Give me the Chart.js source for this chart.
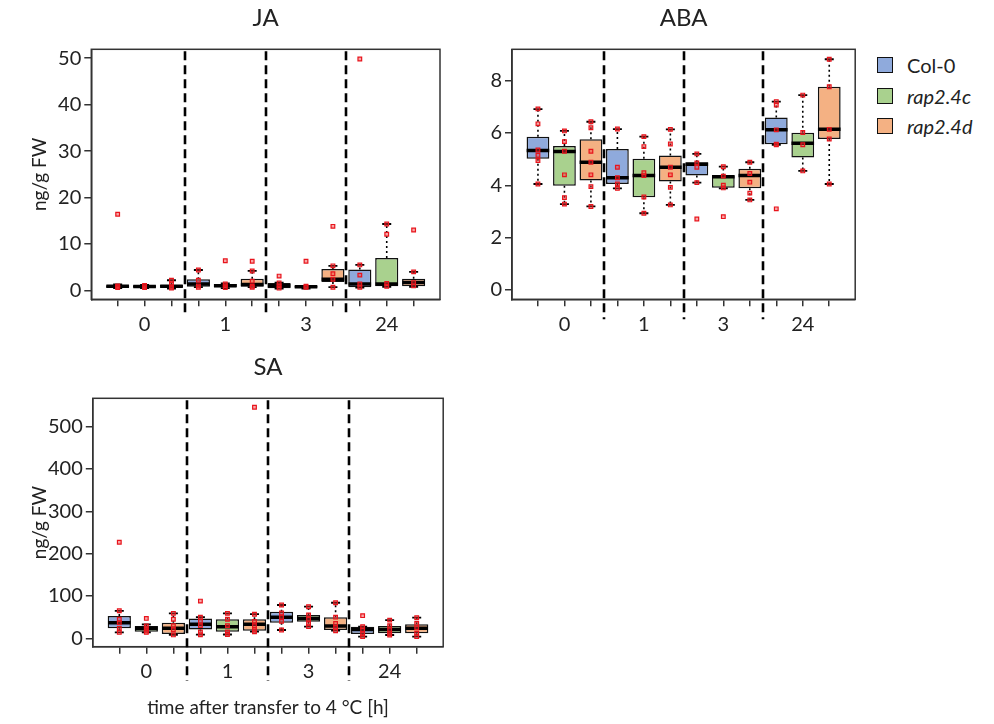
<!DOCTYPE html>
<html>
<head>
<meta charset="utf-8">
<script src="https://cdn.jsdelivr.net/npm/chart.js@4.4.1/dist/chart.umd.min.js"></script>
<style>
  body { margin: 0; background: #fff; width: 994px; height: 724px; position: relative; overflow: hidden; font-family: Lato, sans-serif; }
  .panel { position: absolute; }
  #legend { position: absolute; left: 877px; top: 50px; color: #222; font-size: 20px; }
  .item { display: flex; align-items: center; height: 30.5px; }
  .swatch { width: 14px; height: 14px; border: 1.5px solid #111; margin-right: 14px; }
</style>
</head>
<body>
<div class="panel" style="left:0;top:0;width:470px;height:340px"><canvas id="ja"></canvas></div>
<div class="panel" style="left:470px;top:0;width:400px;height:340px"><canvas id="aba"></canvas></div>
<div class="panel" style="left:0;top:349px;width:470px;height:375px"><canvas id="sa"></canvas></div>
<div id="legend"></div>
<script>
// box slots 1..12: Col-0, rap2.4c, rap2.4d at each time point
const timeLabels = ['0', '1', '3', '24'];
const genotypes = ['Col-0', 'rap2.4c', 'rap2.4d'];
const genotypeColors = ['#8faadc', '#a9d18e', '#f4b183'];
const slots = [1, 2, 3, 4, 5, 6, 7, 8, 9, 10, 11, 12];
const separators = [3.5, 6.5, 9.5];

// JA (ng/g FW)
const jaLow  = [0.5, 0.5, 0.4, 0.7, 0.5, 0.7, 0.4, 0.4, 0.7, 0.6, 0.8, 0.8];
const jaQ1   = [0.6, 0.6, 0.6, 0.8, 0.7, 0.8, 0.5, 0.6, 1.8, 0.7, 0.9, 0.9];
const jaMed  = [0.9, 0.85, 0.9, 1.4, 1.0, 1.3, 1.0, 0.8, 2.4, 1.4, 1.4, 1.7];
const jaQ3   = [1.1, 1.1, 1.2, 2.4, 1.4, 2.5, 1.6, 1.0, 4.6, 4.5, 7.0, 2.5];
const jaHigh = [1.3, 1.2, 2.2, 4.4, 1.5, 4.2, 1.7, 1.0, 5.3, 5.5, 14.3, 4.0];
const jaPoints = [
  [1.0, 0.8, 0.6, 16.4], [1.1, 0.8, 0.6], [2.2, 1.4, 0.8, 0.5],
  [4.4, 2.2, 1.0, 0.7], [1.4, 1.0, 0.6, 6.4], [4.2, 2.0, 0.9, 0.7, 6.3],
  [1.6, 1.0, 0.5, 3.1], [0.9, 0.7, 6.3], [5.3, 3.6, 2.4, 0.7, 13.8],
  [5.5, 3.3, 1.4, 0.7, 49.8], [14.3, 12.1, 1.5, 0.9], [4.0, 1.7, 1.0, 13.0]
];
const jaTicks = [0, 10, 20, 30, 40, 50];

// ABA (ng/g FW)
const abaLow  = [4.05, 3.28, 3.19, 3.88, 2.93, 3.25, 4.10, 3.88, 3.44, 5.55, 4.55, 4.05];
const abaQ1   = [5.01, 3.98, 4.18, 4.05, 3.54, 4.14, 4.37, 3.91, 3.89, 5.57, 5.06, 5.77];
const abaMed  = [5.33, 5.29, 4.88, 4.29, 4.37, 4.69, 4.80, 4.33, 4.37, 6.12, 5.61, 6.14];
const abaQ3   = [5.86, 5.50, 5.76, 5.39, 5.01, 5.14, 4.88, 4.37, 4.63, 6.59, 6.01, 7.77];
const abaHigh = [6.91, 6.08, 6.43, 6.15, 5.86, 6.14, 5.20, 4.71, 4.88, 7.20, 7.45, 8.82];
const abaPoints = [
  [6.92, 6.35, 5.35, 5.15, 4.95, 4.05], [6.08, 5.67, 5.30, 4.40, 3.53, 3.28], [6.43, 6.20, 5.30, 4.88, 4.40, 3.95, 3.19],
  [6.15, 4.69, 4.29, 4.05, 3.88], [5.86, 5.48, 4.48, 4.37, 3.55, 2.93], [6.14, 5.58, 4.69, 4.40, 3.92, 3.25],
  [5.20, 4.85, 4.69, 4.10, 2.71], [4.71, 4.35, 4.00, 3.90, 2.80], [4.88, 4.45, 4.12, 3.70, 3.44],
  [7.20, 7.07, 6.12, 5.57, 5.55, 3.10], [7.45, 6.02, 5.55, 4.55], [8.82, 7.77, 6.14, 5.77, 4.05]
];
const abaTicks = [0, 2, 4, 6, 8];

// SA (ng/g FW)
const saLow  = [14, 14, 8, 8.5, 9, 15.6, 19.6, 27.5, 18, 3.9, 7.8, 3.9];
const saQ1   = [23.6, 15.6, 10, 21, 15.6, 18, 37, 39, 19.6, 10, 11.8, 11.8];
const saMed  = [36.9, 23.6, 23.6, 33, 27.5, 33, 49.6, 47, 29, 21, 21, 23.6];
const saQ3   = [52.7, 29, 36.9, 47, 45, 45, 63, 55, 49.6, 27.5, 29, 33];
const saHigh = [65, 33, 59, 50, 59, 57, 78.7, 74.7, 84, 27.5, 43, 48.7];
const saPoints = [
  [65, 45, 36.9, 23.6, 14, 227], [29, 23.6, 18, 14, 47], [59, 45, 30, 20, 8],
  [50, 40, 30, 15, 8.5, 88], [59, 45, 30, 15, 9], [57, 40, 30, 20, 15.6, 546],
  [78.7, 60, 50, 40, 19.6], [74.7, 55, 45, 35, 27.5], [84, 50, 35, 25, 18],
  [27.5, 20, 10, 3.9, 53.5], [43, 30, 20, 12, 7.8], [48.7, 35, 25, 12, 3.9]
];
const saTicks = [0, 100, 200, 300, 400, 500];

const FONT = 'Lato, sans-serif';
const INK = '#222';

// plot frame and dashed time separators
const framePlugin = {
  id: 'frame',
  afterDatasetsDraw(chart, args, opts) {
    const { ctx, chartArea: a, scales: { x } } = chart;
    ctx.save();
    ctx.strokeStyle = '#333';
    ctx.lineWidth = 1.5;
    ctx.strokeRect(a.left, a.top, a.width, a.height);
    ctx.strokeStyle = '#000';
    ctx.lineWidth = 2.6;
    ctx.setLineDash([9, 5]);
    separators.forEach(s => {
      const px = Math.round(x.getPixelForValue(s));
      ctx.beginPath();
      ctx.moveTo(px, a.top + 2);
      ctx.lineTo(px, a.bottom + opts.extend);
      ctx.stroke();
    });
    ctx.restore();
  }
};

function boxPanel(id, title, st, yMin, yMax, yTicks, layout) {
  const datasets = [];
  datasets.push({
    type: 'scatter', order: 0,
    data: st.points.flatMap((vals, i) => vals.map(v => ({ x: slots[i], y: v }))),
    pointStyle: 'rect', pointRadius: 2.6,
    pointBorderColor: '#e8141c', pointBackgroundColor: 'rgba(240,60,60,0.45)', pointBorderWidth: 1.2
  });
  datasets.push({
    type: 'scatter', order: 1,
    data: slots.map((s, i) => ({ x: s, y: st.med[i] })),
    pointStyle: 'line', pointRadius: 11.3, pointBorderColor: '#000', pointBorderWidth: 3.5
  });
  datasets.push({
    type: 'scatter', order: 2,
    data: slots.flatMap((s, i) => [{ x: s, y: st.low[i] }, { x: s, y: st.high[i] }]),
    pointStyle: 'line', pointRadius: 4.5, pointBorderColor: '#000', pointBorderWidth: 1.8
  });
  genotypes.forEach((g, gi) => datasets.push({
    type: 'bar', order: 3, label: g,
    data: slots.filter((s, i) => i % 3 === gi).map(s => ({ x: s, y: [st.q1[s - 1], st.q3[s - 1]] })),
    backgroundColor: genotypeColors[gi], borderColor: '#111', borderWidth: 1.5,
    borderSkipped: false, grouped: false, barPercentage: 0.86, categoryPercentage: 1
  }));
  datasets.push({
    type: 'line', order: 4,
    data: slots.flatMap((s, i) => [
      { x: s, y: st.q3[i] }, { x: s, y: st.high[i] }, { x: s, y: null },
      { x: s, y: st.q1[i] }, { x: s, y: st.low[i] }, { x: s, y: null }
    ]),
    borderColor: '#000', borderWidth: 1.6, borderDash: [2, 3], pointRadius: 0, spanGaps: false, fill: false
  });

  return new Chart(document.getElementById(id), {
    type: 'bar',
    data: { datasets },
    plugins: [framePlugin],
    options: {
      responsive: true, maintainAspectRatio: false, animation: false, events: [],
      layout: { padding: { left: 0, right: layout.padRight, top: 0, bottom: 0 } },
      plugins: {
        legend: { display: false },
        tooltip: { enabled: false },
        frame: { extend: layout.sepExtend },
        title: {
          display: true, text: title, fullSize: false, color: INK,
          font: { family: FONT, size: 24, weight: 'normal' },
          padding: { top: 4, bottom: 16.5 }
        }
      },
      scales: {
        x: {
          type: 'linear', min: 0.02, max: 12.98, offset: false,
          afterBuildTicks: s => { s.ticks = slots.map(v => ({ value: v })); },
          afterFit: s => { s.height = layout.xHeight; },
          ticks: {
            autoSkip: false, maxRotation: 0, padding: 6, color: INK,
            font: { family: FONT, size: 20 },
            callback: v => (v % 3 === 2 ? timeLabels[(v - 2) / 3] : '')
          },
          grid: { offset: false, drawOnChartArea: false, drawTicks: true, tickLength: 7, color: '#333', lineWidth: 1.5 },
          border: { display: true, color: '#333', width: 1.5 },
          title: {
            display: !!layout.xTitle, text: layout.xTitle || '', color: INK,
            font: { family: FONT, size: 19 }, padding: { top: 5, bottom: 5 }
          }
        },
        y: {
          type: 'linear', min: yMin, max: yMax,
          afterBuildTicks: s => { s.ticks = yTicks.map(v => ({ value: v })); },
          afterFit: s => { s.width = layout.yWidth; },
          ticks: { padding: 3, color: INK, font: { family: FONT, size: 20 } },
          grid: { drawOnChartArea: false, drawTicks: true, tickLength: 7, color: '#333', lineWidth: 1.5 },
          border: { display: true, color: '#333', width: 1.5 },
          title: {
            display: !!layout.yTitle, text: layout.yTitle || '', color: INK,
            font: { family: FONT, size: 19 }, padding: { top: 28, bottom: 28 }
          }
        }
      }
    }
  });
}

boxPanel('ja', 'JA',
  { low: jaLow, q1: jaQ1, med: jaMed, q3: jaQ3, high: jaHigh, points: jaPoints },
  -1.9, 51.9, jaTicks,
  { yWidth: 91.3, padRight: 30, xHeight: 40.7, sepExtend: 16, yTitle: 'ng/g FW' });

boxPanel('aba', 'ABA',
  { low: abaLow, q1: abaQ1, med: abaMed, q3: abaQ3, high: abaHigh, points: abaPoints },
  -0.36, 9.2, abaTicks,
  { yWidth: 42, padRight: 9, xHeight: 40.7, sepExtend: 20 });

boxPanel('sa', 'SA',
  { low: saLow, q1: saQ1, med: saMed, q3: saQ3, high: saHigh, points: saPoints },
  -19.8, 567, saTicks,
  { yWidth: 92.8, padRight: 26.8, xHeight: 77.3, sepExtend: 34, yTitle: 'ng/g FW', xTitle: 'time after transfer to 4 °C [h]' });

// legend
const legend = document.getElementById('legend');
genotypes.forEach((g, gi) => {
  const row = document.createElement('div');
  row.className = 'item';
  const sw = document.createElement('span');
  sw.className = 'swatch';
  sw.style.background = genotypeColors[gi];
  const txt = document.createElement('span');
  txt.textContent = g;
  if (g.startsWith('rap')) txt.style.fontStyle = 'italic';
  row.appendChild(sw);
  row.appendChild(txt);
  legend.appendChild(row);
});
</script>
</body>
</html>
